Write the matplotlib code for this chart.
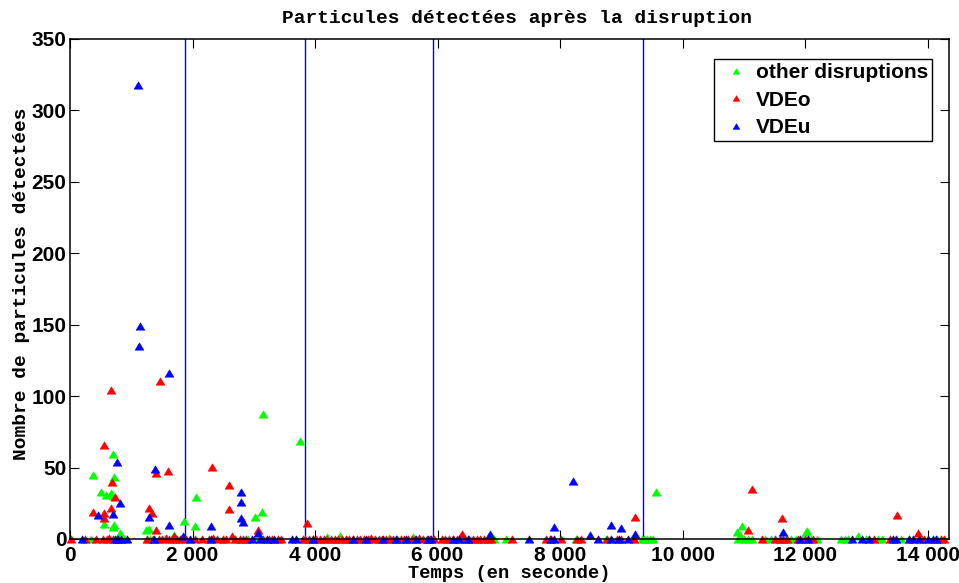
import matplotlib
matplotlib.use("Agg")
import matplotlib.pyplot as plt
from matplotlib.ticker import FixedLocator, FuncFormatter

# ---------------- data ----------------
title = "Particules détectées après la disruption"
xlabel = "Temps (en seconde)"
ylabel = "Nombre de particules détectées"
series_names = ["other disruptions", "VDEo", "VDEu"]

green_x = [374, 504, 580, 667, 694, 699, 720, 548, 694, 720, 813, 850, 1236, 1285, 1700,
           1853, 2033, 2065, 3024, 3128, 3155, 3756, 9572, 10965, 10894, 10930, 12021, 12032,
           341, 760, 900, 1250, 1300, 2700, 2900, 3000, 4189, 4406, 4500, 4900, 5200, 5598,
           6450, 6927, 7116, 8254, 8750, 9200, 9339, 9365, 9419, 9474, 9520, 10910, 11000,
           11073, 11127, 11344, 11450, 11600, 11696, 11777, 11850, 11950, 12100, 12200, 12590,
           12645, 12700, 12862, 13000, 13190, 13250, 13567, 13700, 13900, 14150]
green_y = [44.7, 32.7, 30.7, 32, 30, 59.6, 43.6, 10.5, 8.6, 10, 4, 2, 6.3, 7, 3,
           12.7, 9.3, 29.4, 15.2, 18.9, 87.5, 68.4, 32.7, 9.1, 4.9, 3, 4.7, 5.4,
           0, 0, 0, 0, 0, 0, 0, 0, 1.5, 2, 0, 0, 1, 1.5,
           0, 0, 0, 0, 0, 0, 0, 0, 0, 0, 0, 0, 0,
           0, 0, 0, 0, 0, 0, 0, 0, 0, 0, 0, 0,
           0, 0, 2, 0, 0, 0, 0, 0, 0, 0]

red_peak_x = [1463, 667, 553, 2315, 1607, 1398, 683, 2602, 740, 667, 1290, 2602, 369, 553,
              1333, 553, 1398, 3073, 3870, 2650, 9220, 11127, 11626, 11062, 13501, 6396, 13837]
red_peak_y = [110.6, 104, 65.5, 50.5, 47.3, 46.5, 40.2, 37.5, 29.6, 21.8, 21.5, 20.8, 18.7, 18.5,
              18.5, 14.5, 6.3, 6, 11, 2, 15.6, 34.8, 14.9, 6.5, 16.8, 3.8, 4]

red_base_x = [16, 250, 423, 531, 600, 634, 700, 760, 1263, 1350, 1450, 1507, 1560, 1615, 1660,
              1696, 1750, 1800, 1900, 2048, 2150, 2265, 2340, 2400, 2500, 2550, 2700, 2780, 2830,
              2880, 3150, 3250, 3300, 3400, 3450, 3800, 3840, 3900, 3960, 4020, 4080, 4140, 4200,
              4260, 4320, 4380, 4440, 4500, 4560, 4620, 4680, 4740, 4800, 4860, 4920, 4980, 5040,
              5100, 5160, 5220, 5280, 5340, 5400, 5460, 5520, 5580, 5640, 5700, 5760, 5820, 5880,
              5940, 6070, 6130, 6190, 6250, 6310, 6450, 6520, 6580, 6640, 6700, 6760, 6820, 6880,
              7208, 7778, 7832, 8010, 8281, 8335, 8770, 8932, 9000, 9203, 11290, 11506, 11588,
              11642, 11700, 11885, 12000, 12130, 13120, 13380, 13946, 14217, 14270]
red_base_y = [0, 0, 0, 0, 0, 1, 0, 0, 0, 0, 0, 0, 1, 0, 0,
              2, 0, 0, 0, 0, 0, 0, 1, 0, 0, 0, 0, 0, 0,
              0, 0, 0, 0, 0, 0, 0, 0, 0, 0, 0, 0, 0, 0,
              0, 0, 0, 0, 0, 0, 0, 0, 0, 0, 0, 1, 0, 0,
              0, 0, 0, 0, 0, 0, 0, 0, 0, 0, 1, 0, 0, 0,
              0, 0, 0, 0, 0, 0, 0, 0, 0, 0, 0, 0, 0, 0,
              0, 0, 0, 0, 0, 0, 0, 0, 0, 0, 0, 0, 0,
              0, 0, 0, 0, 0, 0, 0, 0, 0, 0]

blue_x = [1117, 1150, 1133, 1610, 775, 1382, 2797, 2797, 818, 450, 694, 1296, 2797, 2830, 1610,
          2309, 3073, 8211, 7897, 8829, 8992, 9220, 6857, 11642, 8483,
          195, 737, 785, 829, 938, 1371, 1843, 1967, 2304, 2970, 3100, 3214, 3333, 3621, 3697,
          3973, 4613, 4835, 5110, 5327, 5490, 5652, 5842, 5900, 6249, 6358, 6493, 7496, 7848,
          7902, 8623, 8824, 8970, 9111, 11914, 12049, 12769, 12927, 13051, 13431, 13485, 13702,
          13756, 13864, 14000, 14081, 14135]
blue_y = [318, 149, 135, 116, 54, 49, 33, 26, 25.4, 16.6, 17.5, 15.6, 15, 12, 10,
          9, 4.5, 40.6, 8.6, 9.8, 7.7, 3.8, 3.5, 4.9, 2.8,
          0, 0, 0, 0, 0, 0, 2, 0, 0, 0, 0, 0, 0, 0, 0,
          0, 0, 0, 0, 0, 0, 0, 0, 0, 0, 0, 0, 0, 0,
          0, 0, 0, 0, 0, 0, 0, 0, 0, 0, 0, 0, 0,
          0, 0, 0, 0, 0]

vline_x = [1878, 3841, 5922, 9350]

x_ticks = [0, 2000, 4000, 6000, 8000, 10000, 12000, 14000]
y_ticks = [0, 50, 100, 150, 200, 250, 300, 350]
x_limits = (0, 14350)
y_limits = (0, 350)

# ---------------- figure ----------------
W, H = 959, 583
fig = plt.figure(figsize=(W / 100, H / 100), dpi=100)
ax = fig.add_axes([70 / W, 1 - 539 / H, 879 / W, 500 / H])

mono = "Liberation Mono"
sans = "Liberation Sans"

for xv in vline_x:
    ax.axvline(xv, color="#0000ff", linewidth=1.0, zorder=1)

tri = [(0, 0.84), (-1, -0.84), (1, -0.84), (0, 0.84)]
ms = 6.3
mk = dict(linestyle="none", marker=tri, markersize=ms, markeredgewidth=0.4, clip_on=False)
h_g, = ax.plot(green_x, green_y, color=(0, 1, 0), zorder=2, **mk)
h_r, = ax.plot(red_peak_x + red_base_x, red_peak_y + red_base_y, color=(1, 0, 0), zorder=3, **mk)
h_b, = ax.plot(blue_x, blue_y, color=(0, 0, 1), zorder=4, **mk)

ax.set_xlim(*x_limits)
ax.set_ylim(*y_limits)
ax.xaxis.set_major_locator(FixedLocator(x_ticks))
ax.yaxis.set_major_locator(FixedLocator(y_ticks))
ax.xaxis.set_major_formatter(FuncFormatter(lambda v, p: f"{int(v):,}".replace(",", " ")))
ax.yaxis.set_major_formatter(FuncFormatter(lambda v, p: f"{int(v)}"))

ax.tick_params(axis="both", which="major", direction="in", length=6.5, width=0.8,
               top=True, right=True, labelsize=15, color="black")
ax.tick_params(axis="x", pad=5)
ax.tick_params(axis="y", pad=2.5)
for lab in ax.get_xticklabels() + ax.get_yticklabels():
    lab.set_fontfamily(sans)
    lab.set_fontweight("bold")

for sp in ax.spines.values():
    sp.set_linewidth(1.1)
    sp.set_color("black")
    sp.set_zorder(5)

ax.set_title(title, fontfamily=mono, fontweight="bold", fontsize=14, pad=11.5, x=0.508)
ax.set_xlabel(xlabel, fontfamily=mono, fontweight="bold", fontsize=13.5)
ax.set_ylabel(ylabel, fontfamily=mono, fontweight="bold", fontsize=14)
ax.xaxis.set_label_coords(0.5, -0.052)
ax.yaxis.set_label_coords(-0.046, 0.51)

leg = ax.legend([h_g, h_r, h_b], series_names, loc="upper right",
                bbox_to_anchor=(932 / W, 1 - 59 / H), bbox_transform=fig.transFigure,
                borderaxespad=0, prop={"family": sans, "weight": "bold", "size": 15},
                fancybox=False, framealpha=1, edgecolor="black", markerscale=0.75,
                handlelength=1.7, handletextpad=0.1, labelspacing=0.4, borderpad=0.2,
                numpoints=1)
leg.get_frame().set_linewidth(1.0)

fig.savefig("out.png", dpi=100)
